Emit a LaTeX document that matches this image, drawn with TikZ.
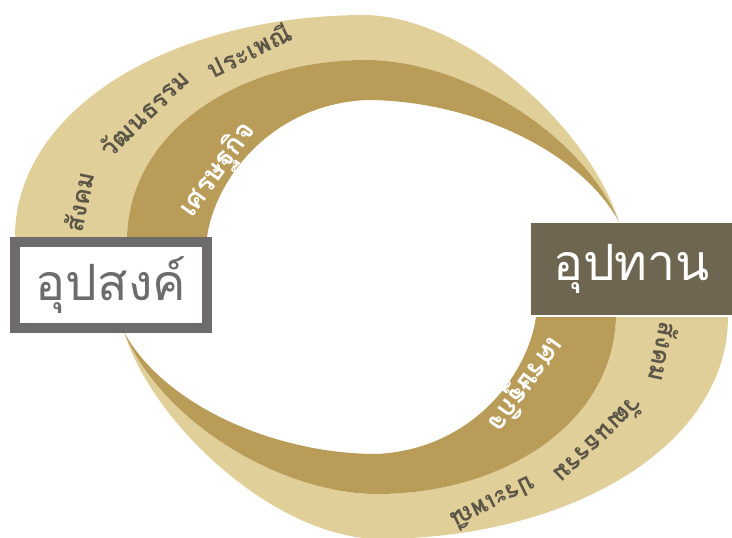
\documentclass[tikz,border=0pt]{standalone}
\usepackage{fontspec}
\newfontfamily\thaifont[Script=Thai]{Loma}
\definecolor{bandlight}{HTML}{E0CF98}
\definecolor{banddark}{HTML}{B89C58}
\definecolor{wordgray}{HTML}{5B5548}
\definecolor{framegray}{HTML}{6D6B6B}
\definecolor{boxolive}{HTML}{6E6650}
\tikzset{
  outerword/.style={font=\thaifont\bfseries\fontsize{25}{27}\selectfont, text=wordgray, inner sep=0pt},
  innerword/.style={font=\thaifont\bfseries\fontsize{28}{30}\selectfont, text=white, inner sep=0pt},
  demandbox/.style={draw=framegray, line width=10pt, fill=white, minimum width=192pt, minimum height=86pt,
    font=\thaifont\fontsize{50}{54}\selectfont, text=framegray, inner sep=0pt},
  supplybox/.style={fill=boxolive, minimum width=201pt, minimum height=92pt,
    font=\thaifont\fontsize{50}{54}\selectfont, text=white, inner sep=0pt}
}
\newcommand\halfband[1]{%
  \fill[bandlight] (15,237) .. controls (15,110) and (170,15) .. (366,15)
     .. controls (470,18) and (590,130) .. (619,222)
     .. controls (580,130) and (460,60) .. (366,60)
     .. controls (240,60) and (130,130) .. (127,237) -- cycle;
  \fill[banddark] (127,237) .. controls (130,130) and (240,60) .. (366,60)
     .. controls (460,60) and (580,130) .. (619,222)
     .. controls (580,150) and (470,100) .. (366,100)
     .. controls (270,105) and (215,180) .. (207,237) -- cycle;
  \node[outerword, rotate=78] (#1a) at (79,202) {สังคม};
  \node[outerword, rotate=44] (#1b) at (144,113) {วัฒนธรรม};
  \node[outerword, rotate=26] (#1c) at (249,50) {ประเพณี};
  \node[innerword, rotate=54] (#1d) at (218,170) {เศรษฐกิจ};
}
\begin{document}
\begin{tikzpicture}[x=1pt,y=-1pt]
\useasboundingbox (0,0) rectangle (732,538);
\fill[white] (0,0) rectangle (732,538);
\halfband{top}
\begin{scope}[rotate around={180:(371.5,277)}, transform shape]
\halfband{bot}
\end{scope}
\node[demandbox] (demand) at (111,285) {อุปสงค์};
\node[supplybox] (supply) at (631.5,269) {อุปทาน};
\end{tikzpicture}
\end{document}
